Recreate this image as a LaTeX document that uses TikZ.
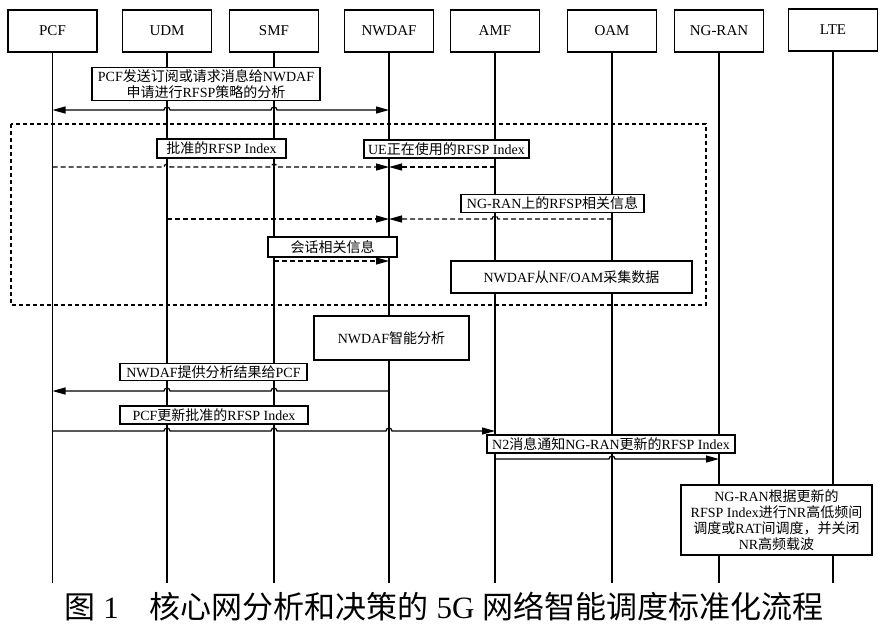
\documentclass[tikz,border=0pt]{standalone}
\usepackage{fontspec}
\setmainfont{Liberation Serif}
\newfontfamily\cjk{Noto Sans CJK SC}
\usetikzlibrary{arrows.meta,calc}
\newcommand\zh[1]{{\cjk #1}}
\begin{document}
\begin{tikzpicture}[x=1pt,y=1pt,
  hdr/.style={draw,line width=1.2pt,minimum width=89pt,minimum height=42pt,inner sep=0pt,font=\fontsize{15}{17}\selectfont},
  lbl/.style={draw,fill=white,line width=1.2pt,inner sep=0pt,align=center,font=\fontsize{14}{16}\selectfont},
  life/.style={line width=1.2pt},
  tip/.tip={Triangle[length=13pt,width=7pt]},
  msg/.style={line width=1.2pt,-tip},
  dmsg/.style={msg,dash pattern=on 5pt off 3pt},
]
\useasboundingbox (0,0) rectangle (881,-625);
% headers
\node[hdr] (pcf)   at (52.5,-31)  {PCF};
\node[hdr] (udm)   at (167,-31) {UDM};
\node[hdr] (smf)   at (274,-31) {SMF};
\node[hdr] (nwdaf) at (389,-31) {NWDAF};
\node[hdr] (amf)   at (495,-31) {AMF};
\node[hdr] (oam)   at (612,-31) {OAM};
\node[hdr] (ngran) at (719,-31) {NG-RAN};
\node[hdr] (lte)   at (833,-30) {LTE};
% lifelines
\foreach \n in {pcf,udm,smf,nwdaf,amf,oam,ngran,lte}
  \draw[life] (\n.south) -- (\n|-0,-583);
% dashed frame
\draw[line width=1.2pt,dash pattern=on 4pt off 3pt] (11,-124) rectangle (706,-305);
% message 1
\draw[line width=1.2pt,tip-tip] (pcf|-0,-110) -- ($(udm|-0,-110)+(-3,0)$) arc[start angle=180,end angle=0,radius=3]
  -- ($(smf|-0,-110)+(-3,0)$) arc[start angle=180,end angle=0,radius=3] -- (nwdaf|-0,-110);
% dashed collection
\draw[dmsg] (pcf|-0,-167) -- ($(udm|-0,-167)+(-3,0)$) arc[start angle=180,end angle=0,radius=3]
  -- ($(smf|-0,-167)+(-3,0)$) arc[start angle=180,end angle=0,radius=3] -- (nwdaf|-0,-167);
\draw[dmsg] (amf|-0,-167) -- (nwdaf|-0,-167);
\draw[dmsg] (udm|-0,-219) -- (nwdaf|-0,-219);
\draw[dmsg] (oam|-0,-219) -- ($(amf|-0,-219)+(3,0)$) arc[start angle=0,end angle=180,radius=3] -- (nwdaf|-0,-219);
\draw[dmsg] (smf|-0,-261) -- (nwdaf|-0,-261);
% results
\draw[msg] (nwdaf|-0,-391) -- ($(smf|-0,-391)+(3,0)$) arc[start angle=0,end angle=180,radius=3]
  -- ($(udm|-0,-391)+(3,0)$) arc[start angle=0,end angle=180,radius=3] -- (pcf|-0,-391);
\draw[msg] (pcf|-0,-431) -- ($(udm|-0,-431)+(-3,0)$) arc[start angle=180,end angle=0,radius=3]
  -- ($(smf|-0,-431)+(-3,0)$) arc[start angle=180,end angle=0,radius=3]
  -- ($(nwdaf|-0,-431)+(-3,0)$) arc[start angle=180,end angle=0,radius=3] -- (amf|-0,-431);
\draw[msg] (amf|-0,-459) -- ($(oam|-0,-459)+(-3,0)$) arc[start angle=180,end angle=0,radius=3] -- (ngran|-0,-459);
% label boxes
\node[lbl,minimum width=228pt,minimum height=33pt] (b1) at (206,-84)
  {PCF\zh{发送订阅或请求消息给}NWDAF\\\zh{申请进行}RFSP\zh{策略的分析}};
\node[lbl,minimum width=129pt,minimum height=19pt] (b2) at (221.5,-148.5) {\zh{批准的}RFSP Index};
\node[lbl,minimum width=165pt,minimum height=18pt] (b3) at (446.5,-149) {UE\zh{正在使用的}RFSP Index};
\node[lbl,minimum width=183pt,minimum height=18pt] (b4) at (552.5,-203.5) {NG-RAN\zh{上的}RFSP\zh{相关信息}};
\node[lbl,minimum width=129pt,minimum height=20pt] (b5) at (332.5,-247) {\zh{会话相关信息}};
\node[lbl,minimum width=241pt,minimum height=32pt] (b6) at (571.5,-277) {NWDAF\zh{从}NF/OAM\zh{采集数据}};
\node[lbl,minimum width=155pt,minimum height=44pt] (b7) at (391.5,-338) {NWDAF\zh{智能分析}};
\node[lbl,minimum width=187pt,minimum height=17pt] (b8) at (213.5,-372) {NWDAF\zh{提供分析结果给}PCF};
\node[lbl,minimum width=188pt,minimum height=18pt] (b9) at (214,-415) {PCF\zh{更新批准的}RFSP Index};
\node[lbl,minimum width=248pt,minimum height=18pt] (b10) at (611,-444) {N2\zh{消息通知}NG-RAN\zh{更新的}RFSP Index};
\node[lbl,minimum width=191pt,minimum height=70pt] (b11) at (776.5,-520)
  {NG-RAN\zh{根据更新的}\\RFSP Index\zh{进行}NR\zh{高低频间}\\\zh{调度或}RAT\zh{间调度，并关闭}\\NR\zh{高频载波}};
% caption
\node[font=\fontsize{31}{34}\selectfont] (cap) at (444,-607)
  {\zh{图} 1\quad\zh{核心网分析和决策的} 5G \zh{网络智能调度标准化流程}};
\end{tikzpicture}
\end{document}
